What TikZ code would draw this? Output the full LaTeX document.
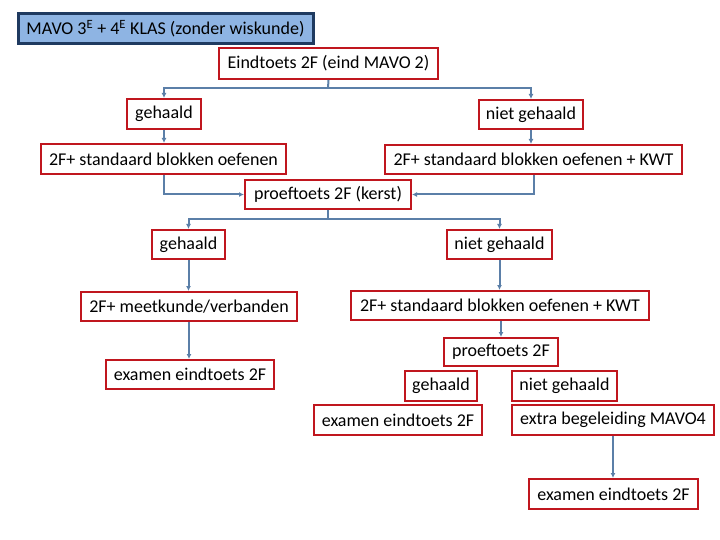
\documentclass[tikz,border=0pt]{standalone}
\usepackage{fontspec}
\setmainfont{Carlito}
\usetikzlibrary{arrows.meta}
\definecolor{boxred}{HTML}{C0161E}
\definecolor{linkblue}{HTML}{5B7FA8}
\definecolor{titlefill}{HTML}{8EB4E3}
\definecolor{titledraw}{HTML}{1F3A60}
\tikzset{
  box/.style={draw=boxred, line width=2pt, fill=white, inner sep=0pt, font=\fontsize{18}{21}\selectfont, text=black},
  titlebox/.style={draw=titledraw, line width=3pt, fill=titlefill, inner sep=0pt, font=\fontsize{18}{21}\selectfont, text=black},
  link/.style={draw=linkblue, line width=2pt, -{Latex[length=5pt,width=5pt]}},
  plain/.style={draw=linkblue, line width=2pt}
}
\begin{document}
\begin{tikzpicture}[x=1pt,y=-1pt]
\useasboundingbox (0,0) rectangle (720,540);
\node[titlebox, minimum width=295, minimum height=30] (title) at (165.5,29) {MAVO 3\textsuperscript{E} + 4\textsuperscript{E} KLAS (zonder wiskunde)};
\node[box, minimum width=219, minimum height=31] (eind) at (328.5,63.5) {Eindtoets 2F (eind MAVO 2)};
\node[box, minimum width=74, minimum height=30] (g1) at (164,114) {gehaald};
\node[box, minimum width=104, minimum height=29] (ng1) at (531,114.5) {niet gehaald};
\node[box, minimum width=245, minimum height=30] (std) at (163.5,159) {2F+ standaard blokken oefenen};
\node[box, minimum width=297, minimum height=29] (kwt) at (533.5,159.5) {2F+ standaard blokken oefenen + KWT};
\node[box, minimum width=166, minimum height=29] (pk) at (328,194.5) {proeftoets 2F (kerst)};
\node[box, minimum width=73, minimum height=29] (g2) at (188.5,244.5) {gehaald};
\node[box, minimum width=105, minimum height=29] (ng2) at (499.5,244.5) {niet gehaald};
\node[box, minimum width=216, minimum height=29] (meet) at (189,306.5) {2F+ meetkunde/verbanden};
\node[box, minimum width=298, minimum height=29] (kwt2) at (500,305.5) {2F+ standaard blokken oefenen + KWT};
\node[box, minimum width=168, minimum height=29] (ex1) at (190,374.5) {examen eindtoets 2F};
\node[box, minimum width=114, minimum height=28] (p2) at (501,352) {proeftoets 2F};
\node[box, minimum width=72, minimum height=30] (g3) at (441,386) {gehaald};
\node[box, minimum width=105, minimum height=30] (ng3) at (564.5,386) {niet gehaald};
\node[box, minimum width=168, minimum height=30] (ex2) at (398,420) {examen eindtoets 2F};
\node[box, minimum width=202, minimum height=30] (extra) at (613,420) {extra begeleiding MAVO4};
\node[box, minimum width=169, minimum height=30] (ex3) at (613.5,494) {examen eindtoets 2F};
% connectors
\coordinate (j1) at (328,88);
\draw[plain] (eind.south) -- (j1);
\draw[link] (j1) -| (g1.north);
\draw[link] (j1) -| (ng1.north);
\draw[link] (g1.south) -- (std.north -| g1.south);
\draw[link] (ng1.south) -- (kwt.north -| ng1.south);
\draw[link] (std.south) |- (pk.west);
\draw[link] (kwt.south) |- (pk.east);
\coordinate (j2) at (328,219);
\draw[plain] (pk.south) -- (j2);
\draw[link] (j2) -| (g2.north);
\draw[link] (j2) -| (ng2.north);
\draw[link] (g2.south) -- (meet.north -| g2.south);
\draw[link] (ng2.south) -- (kwt2.north -| ng2.south);
\draw[link] (meet.south) -- (ex1.north -| meet.south);
\draw[link] (kwt2.south -| p2.north) -- (p2.north);
\draw[link] (extra.south) -- (ex3.north -| extra.south);
\end{tikzpicture}
\end{document}
